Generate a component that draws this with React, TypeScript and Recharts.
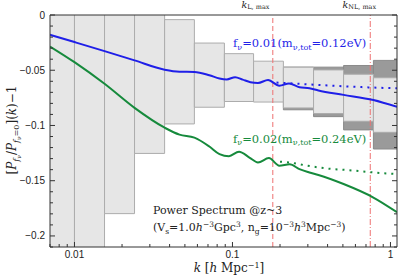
import React from "react";
import {
  ComposedChart,
  Line,
  XAxis,
  YAxis,
  ReferenceArea,
  ReferenceLine,
} from "recharts";

// k bins of the survey error boxes
const binEdges = [0.005, 0.01, 0.0155, 0.024, 0.0372, 0.0574, 0.0889, 0.136, 0.21, 0.326, 0.505, 0.78, 1.2];
const boxTop = [0.05, 0.05, 0.05, 0.05, -0.0042, -0.0254, -0.035, -0.0418, -0.0472, -0.0497, -0.0536, -0.0568];
const boxBottom = [-0.3, -0.3, -0.1798, -0.1253, -0.0986, -0.0835, -0.0783, -0.0788, -0.0841, -0.0892, -0.0962, -0.1062];
// larger (dark) boxes in the last bins
const darkBins = [8, 9, 10, 11];
const darkTop = [-0.0472, -0.0472, -0.0457, -0.0411];
const darkBottom = [-0.0858, -0.092, -0.104, -0.1213];

// f_nu = 0.01, nonlinear
const blueK = [0.007, 0.01, 0.0155, 0.024, 0.0372, 0.0462, 0.0574, 0.0714, 0.0828, 0.092, 0.104, 0.116, 0.13, 0.145, 0.168, 0.198, 0.228, 0.2655, 0.307, 0.35, 0.505, 0.78, 1.1];
const blueVal = [-0.0179, -0.0245, -0.0327, -0.0411, -0.0495, -0.0513, -0.0515, -0.0545, -0.0575, -0.0583, -0.0563, -0.0585, -0.0608, -0.0615, -0.0589, -0.064, -0.062, -0.0654, -0.0663, -0.0684, -0.0723, -0.077, -0.0832];
// f_nu = 0.01, linear
const blueLinK = [0.19, 0.23, 0.3, 0.4, 0.55, 0.78, 1.1];
const blueLinVal = [-0.0612, -0.0618, -0.0628, -0.0638, -0.0648, -0.0657, -0.0663];

// f_nu = 0.02, nonlinear
const greenK = [0.007, 0.01, 0.0155, 0.024, 0.0372, 0.0462, 0.0574, 0.0714, 0.0828, 0.095, 0.11, 0.128, 0.145, 0.17, 0.198, 0.23, 0.2655, 0.307, 0.35, 0.505, 0.78, 1.1];
const greenVal = [-0.0285, -0.0427, -0.0623, -0.0841, -0.102, -0.1083, -0.111, -0.119, -0.1259, -0.1278, -0.1237, -0.129, -0.1335, -0.1295, -0.1364, -0.1352, -0.1395, -0.1425, -0.1448, -0.153, -0.1652, -0.1785];
// f_nu = 0.02, linear
const greenLinK = [0.2, 0.23, 0.3, 0.4, 0.55, 0.78, 1.1];
const greenLinVal = [-0.1328, -0.1335, -0.1365, -0.139, -0.1405, -0.1425, -0.144];

const kLinMax = 0.18;
const kNLMax = 0.745;

const xMajor = [0.01, 0.1, 1];
const xMajorLabels = ["0.01", "0.1", "1"];
const xMinor = [0.007, 0.008, 0.009, 0.02, 0.03, 0.04, 0.05, 0.06, 0.07, 0.08, 0.09, 0.2, 0.3, 0.4, 0.5, 0.6, 0.7, 0.8, 0.9];
const yMajor = [0, -0.05, -0.1, -0.15, -0.2];
const yMajorLabels = ["0", "−0.05", "−0.1", "−0.15", "−0.2"];
const yMinor = [-0.01, -0.02, -0.03, -0.04, -0.06, -0.07, -0.08, -0.09, -0.11, -0.12, -0.13, -0.14, -0.16, -0.17, -0.18, -0.19, -0.21];

const BLUE = "#1f1fe8";
const GREEN = "#168a3c";
const PINK = "#ee7070";
const FRAME = "#333";
const SERIF = "'DejaVu Serif', serif";
const SANS = "'Liberation Sans', Arial, sans-serif";

const toRows = (ks: number[], vs: number[]) => ks.map((k, i) => ({ k, v: vs[i] }));
const xTicks = [...xMajor, ...xMinor].sort((a, b) => a - b);
const yTicks = [...yMajor, ...yMinor].sort((a, b) => a - b);

function BottomTick({ x, y, payload }: any) {
  const i = xMajor.indexOf(payload.value);
  return (
    <g>
      <line x1={x} x2={x} y1={y} y2={y - (i >= 0 ? 5 : 3)} stroke={FRAME} />
      {i >= 0 && (
        <text x={x} y={y + 11} textAnchor="middle" fontSize={10} fontFamily={SANS} fill="#222">
          {xMajorLabels[i]}
        </text>
      )}
    </g>
  );
}

function TopTick({ x, y, payload }: any) {
  const major = xMajor.includes(payload.value);
  return <line x1={x} x2={x} y1={y} y2={y + (major ? 5 : 3)} stroke={FRAME} />;
}

function LeftTick({ x, y, payload }: any) {
  const i = yMajor.indexOf(payload.value);
  return (
    <g>
      <line x1={x} x2={x + (i >= 0 ? 5 : 3)} y1={y} y2={y} stroke={FRAME} />
      {i >= 0 && (
        <text x={x - 5} y={y + 3.5} textAnchor="end" fontSize={10} fontFamily={SANS} fill="#222">
          {yMajorLabels[i]}
        </text>
      )}
    </g>
  );
}

function RightTick({ x, y, payload }: any) {
  const major = yMajor.includes(payload.value);
  return <line x1={x} x2={x - (major ? 5 : 3)} y1={y} y2={y} stroke={FRAME} />;
}

function Labels() {
  return (
    <svg
      width={399}
      height={276}
      style={{ position: "absolute", left: 0, top: 0, pointerEvents: "none" }}
    >
      <text x={241.5} y={7.5} fontSize={9.5} fontFamily={SERIF} fill="#222">
        <tspan fontStyle="italic">k</tspan>
        <tspan fontSize={6.5} dy={1.5}>L, max</tspan>
      </text>
      <text x={342.5} y={7.5} fontSize={9.5} fontFamily={SERIF} fill="#222">
        <tspan fontStyle="italic">k</tspan>
        <tspan fontSize={6.5} dy={1.5}>NL, max</tspan>
      </text>

      <text x={233} y={47} fontSize={11.5} fontFamily={SERIF} fill={BLUE}>
        f<tspan fontSize={8} dy={2.5}>ν</tspan>
        <tspan dy={-2.5}>=0.01(m</tspan>
        <tspan fontSize={8} dy={2.5}>ν,tot</tspan>
        <tspan dy={-2.5}>=0.12eV)</tspan>
      </text>
      <text x={233} y={142.5} fontSize={11.5} fontFamily={SERIF} fill={GREEN}>
        f<tspan fontSize={8} dy={2.5}>ν</tspan>
        <tspan dy={-2.5}>=0.02(m</tspan>
        <tspan fontSize={8} dy={2.5}>ν,tot</tspan>
        <tspan dy={-2.5}>=0.24eV)</tspan>
      </text>

      <text x={153} y={213.5} fontSize={11} fontFamily={SERIF} fill="#222">
        Power Spectrum @z~3
      </text>
      <text x={153} y={231} fontSize={11} fontFamily={SERIF} fill="#222">
        (V<tspan fontSize={7.5} dy={2.5}>s</tspan>
        <tspan dy={-2.5}>=1.0</tspan>
        <tspan fontStyle="italic">h</tspan>
        <tspan fontSize={7.5} dy={-4}>−3</tspan>
        <tspan dy={4}>Gpc</tspan>
        <tspan fontSize={7.5} dy={-4}>3</tspan>
        <tspan dy={4}>, n</tspan>
        <tspan fontSize={7.5} dy={2.5}>g</tspan>
        <tspan dy={-2.5}>=10</tspan>
        <tspan fontSize={7.5} dy={-4}>−3</tspan>
        <tspan fontStyle="italic" dy={4}>h</tspan>
        <tspan fontSize={7.5} dy={-4}>3</tspan>
        <tspan dy={4}>Mpc</tspan>
        <tspan fontSize={7.5} dy={-4}>−3</tspan>
        <tspan dy={4}>)</tspan>
      </text>

      <text x={229} y={272} textAnchor="middle" fontSize={12} fontFamily={SERIF} fill="#222">
        <tspan fontStyle="italic">k</tspan> [<tspan fontStyle="italic">h</tspan> Mpc
        <tspan fontSize={8} dy={-4}>−1</tspan>
        <tspan dy={4}>]</tspan>
      </text>

      <text
        transform="translate(16,130) rotate(-90)"
        textAnchor="middle"
        fontSize={12}
        fontFamily={SERIF}
        fill="#222"
      >
        [<tspan fontStyle="italic">P</tspan>
        <tspan fontSize={8} dy={3} fontStyle="italic">f</tspan>
        <tspan fontSize={6} dy={1.5}>ν</tspan>
        <tspan dy={-4.5}>/</tspan>
        <tspan fontStyle="italic">P</tspan>
        <tspan fontSize={8} dy={3} fontStyle="italic">f</tspan>
        <tspan fontSize={6} dy={1.5}>ν</tspan>
        <tspan fontSize={8} dy={-1.5}>=0</tspan>
        <tspan dy={-3}>](</tspan>
        <tspan fontStyle="italic">k</tspan>)−1
      </text>
    </svg>
  );
}

export default function App() {
  return (
    <div style={{ position: "absolute", left: 0, top: 0, width: 399, height: 276, background: "#fff" }}>
      <ComposedChart
        width={399}
        height={276}
        margin={{ top: 14, right: 1, bottom: 28, left: 49 }}
      >
        <XAxis
          dataKey="k"
          type="number"
          scale="log"
          domain={[0.007, 1.1]}
          allowDataOverflow
          ticks={xTicks}
          interval={0}
          height={1}
          tickSize={0}
          tickMargin={0}
          tick={<BottomTick />}
          axisLine={{ stroke: FRAME }}
          tickLine={false}
        />
        <XAxis
          xAxisId="top"
          orientation="top"
          type="number"
          scale="log"
          domain={[0.007, 1.1]}
          allowDataOverflow
          ticks={xTicks}
          interval={0}
          height={1}
          tickSize={0}
          tickMargin={0}
          tick={<TopTick />}
          axisLine={{ stroke: FRAME }}
          tickLine={false}
        />
        <YAxis
          type="number"
          domain={[-0.21, 0]}
          allowDataOverflow
          ticks={yTicks}
          interval={0}
          width={1}
          tickSize={0}
          tickMargin={0}
          tick={<LeftTick />}
          axisLine={{ stroke: FRAME }}
          tickLine={false}
        />
        <YAxis
          yAxisId="right"
          orientation="right"
          type="number"
          domain={[-0.21, 0]}
          allowDataOverflow
          ticks={yTicks}
          interval={0}
          width={1}
          tickSize={0}
          tickMargin={0}
          tick={<RightTick />}
          axisLine={{ stroke: FRAME }}
          tickLine={false}
        />

        {darkBins.map((b, i) => (
          <ReferenceArea
            key={"d" + b}
            x1={binEdges[b]}
            x2={binEdges[b + 1]}
            y1={darkBottom[i]}
            y2={darkTop[i]}
            ifOverflow="hidden"
            fill="#9a9a9a"
            fillOpacity={1}
            stroke="#8a8a8a"
          />
        ))}
        {boxTop.map((t, i) => (
          <ReferenceArea
            key={"b" + i}
            x1={binEdges[i]}
            x2={binEdges[i + 1]}
            y1={boxBottom[i]}
            y2={t}
            ifOverflow="hidden"
            fill="#e6e6e6"
            fillOpacity={1}
            stroke="#acacac"
            strokeWidth={1}
          />
        ))}

        <ReferenceLine x={kLinMax} stroke={PINK} strokeDasharray="5 3" ifOverflow="hidden" />
        <ReferenceLine x={kNLMax} stroke={PINK} strokeDasharray="6 2 1 2" ifOverflow="hidden" />

        <Line
          data={toRows(blueLinK, blueLinVal)}
          dataKey="v"
          type="monotone"
          stroke={BLUE}
          strokeWidth={2}
          strokeDasharray="2 5"
          dot={false}
          isAnimationActive={false}
        />
        <Line
          data={toRows(greenLinK, greenLinVal)}
          dataKey="v"
          type="monotone"
          stroke={GREEN}
          strokeWidth={2}
          strokeDasharray="2 5"
          dot={false}
          isAnimationActive={false}
        />
        <Line
          data={toRows(blueK, blueVal)}
          dataKey="v"
          type="monotone"
          stroke={BLUE}
          strokeWidth={2}
          dot={false}
          isAnimationActive={false}
        />
        <Line
          data={toRows(greenK, greenVal)}
          dataKey="v"
          type="monotone"
          stroke={GREEN}
          strokeWidth={2}
          dot={false}
          isAnimationActive={false}
        />
      </ComposedChart>
      <Labels />
    </div>
  );
}
